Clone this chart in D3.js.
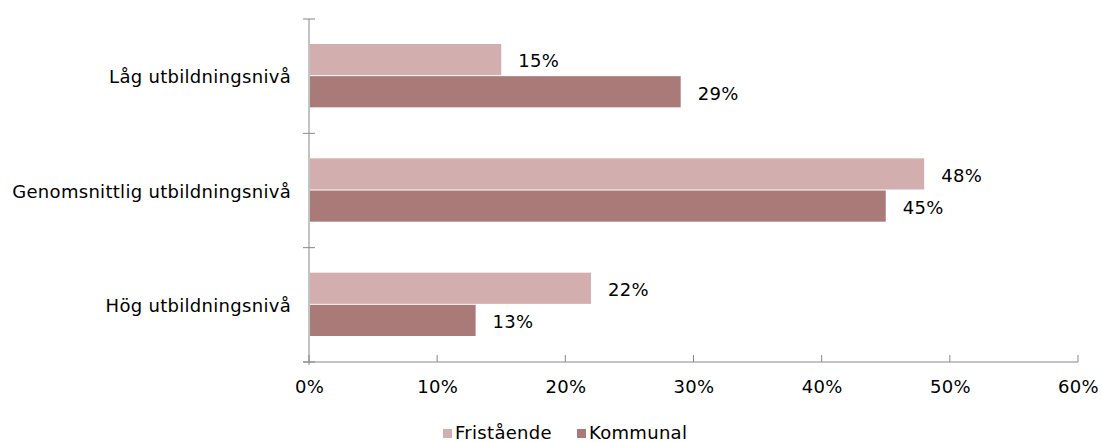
<!DOCTYPE html>
<html>
<head>
<meta charset="utf-8">
<script src="https://cdn.jsdelivr.net/npm/d3@7"></script>
<style>
  body { margin: 0; background: #fff; }
  text { font-family: Verdana, "DejaVu Sans", sans-serif; fill: #000; letter-spacing: 0.3px; }
</style>
</head>
<body>
<div id="chart"></div>
<script>
// data
const categories = ["Låg utbildningsnivå", "Genomsnittlig utbildningsnivå", "Hög utbildningsnivå"];
const series = ["Fristående", "Kommunal"];
const fristaende = [15, 48, 22];
const kommunal = [29, 45, 13];
const xTicks = [0, 10, 20, 30, 40, 50, 60];
const colors = ["#d3aeae", "#a97a77"];

const svgWidth = 1101;
const svgHeight = 442;
const margin = { top: 19, right: 23, bottom: 80, left: 309 };
const width = svgWidth - margin.left - margin.right;
const height = svgHeight - margin.top - margin.bottom;
const fontSize = "18px";

const rows = categories.map((c, i) => ({
  cat: c,
  vals: [fristaende[i], kommunal[i]]
}));

const svg = d3.select("#chart")
  .append("svg")
  .attr("width", svgWidth)
  .attr("height", svgHeight);

const chartGroup = svg.append("g")
  .attr("transform", `translate(${margin.left}, ${margin.top})`);

// scales
const xScale = d3.scaleLinear().domain([0, 60]).range([0, width]);
const yScale = d3.scaleBand().domain(categories).range([0, height]).padding(0);
const ySub = d3.scaleBand().domain(series)
  .range([25, yScale.bandwidth() - 25]).padding(0);

// bars
const groups = chartGroup.selectAll(".cat")
  .data(rows)
  .enter()
  .append("g")
  .attr("transform", d => `translate(0, ${yScale(d.cat)})`);

groups.selectAll("rect")
  .data(d => d.vals.map((v, i) => ({ s: series[i], v: v, i: i })))
  .enter()
  .append("rect")
  .attr("x", 1)
  .attr("y", d => ySub(d.s))
  .attr("width", d => xScale(d.v) - 1)
  .attr("height", ySub.bandwidth() - 1)
  .attr("fill", d => colors[d.i]);

groups.selectAll(".lbl")
  .data(d => d.vals.map((v, i) => ({ s: series[i], v: v })))
  .enter()
  .append("text")
  .attr("class", "lbl")
  .attr("x", d => xScale(d.v) + 17)
  .attr("y", d => ySub(d.s) + ySub.bandwidth() / 2 + 1)
  .attr("dy", "0.35em")
  .style("font-size", fontSize)
  .text(d => d.v + "%");

// axes
const axisColor = "#888";

const leftAxis = d3.axisLeft(yScale).tickSize(0).tickPadding(18).tickFormat(d => d);
const yAxisG = chartGroup.append("g").call(leftAxis);
yAxisG.select(".domain").remove();
yAxisG.selectAll("text").style("font-size", fontSize).attr("dy", "0.4em");

// y axis line + cross ticks at band boundaries
chartGroup.append("line")
  .attr("x1", 0).attr("x2", 0)
  .attr("y1", 0).attr("y2", height + 3)
  .attr("stroke", axisColor);

const bounds = categories.map(c => yScale(c)).concat([height]);
chartGroup.selectAll(".ytick")
  .data(bounds)
  .enter()
  .append("line")
  .attr("x1", -6).attr("x2", 6)
  .attr("y1", d => d).attr("y2", d => d)
  .attr("stroke", axisColor);

const bottomAxis = d3.axisBottom(xScale)
  .tickValues(xTicks)
  .tickSize(0)
  .tickPadding(18)
  .tickFormat(d => d + "%");
const xAxisG = chartGroup.append("g")
  .attr("transform", `translate(0, ${height})`)
  .call(bottomAxis);
xAxisG.select(".domain").remove();
xAxisG.selectAll("text").style("font-size", fontSize);

chartGroup.append("line")
  .attr("x1", -6).attr("x2", width)
  .attr("y1", height).attr("y2", height)
  .attr("stroke", axisColor);

chartGroup.selectAll(".xtick")
  .data(xTicks)
  .enter()
  .append("line")
  .attr("x1", d => xScale(d)).attr("x2", d => xScale(d))
  .attr("y1", height - 7).attr("y2", height)
  .attr("stroke", axisColor);

// legend
const legend = svg.append("g")
  .attr("transform", "translate(443, 433)");

const legendX = [0, 134];
series.forEach((s, i) => {
  const g = legend.append("g").attr("transform", `translate(${legendX[i]}, 0)`);
  g.append("rect")
    .attr("x", 0).attr("y", -4)
    .attr("width", 9).attr("height", 9)
    .attr("fill", colors[i]);
  g.append("text")
    .attr("x", 12)
    .attr("y", 0)
    .attr("dy", "0.35em")
    .style("font-size", fontSize)
    .text(s);
});
</script>
</body>
</html>
